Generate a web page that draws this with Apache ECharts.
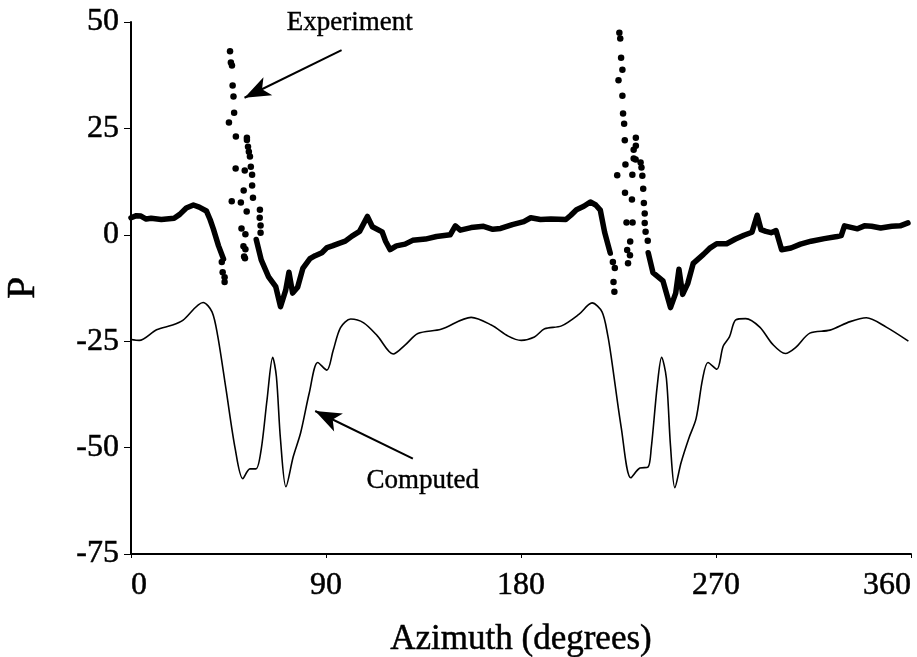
<!DOCTYPE html>
<html>
<head>
<meta charset="utf-8">
<script src="https://cdn.jsdelivr.net/npm/echarts@6/dist/echarts.min.js"></script>
<style>
  html, body { margin: 0; padding: 0; background: #fff; }
  #main { width: 917px; height: 657px; }
</style>
</head>
<body>
<div id="main"></div>
<script>
// x ticks / y ticks
const xTicks = [0, 90, 180, 270, 360];
const yTicks = [-75, -50, -25, 0, 25, 50];

// computed curve [azimuth, P]
const computed = [
  [0, -24.6], [3.8, -24.8], [11.8, -22.3], [19.2, -21.2], [23.9, -20.1], [33.3, -15.9],
  [37.4, -18.1], [40.0, -23.7], [43.8, -36.1], [48.1, -50.3], [51.6, -57.3], [54.9, -55.0],
  [57.7, -55.0], [60.1, -50.4], [62.8, -38.7], [65.4, -28.8], [67.1, -33.3], [69.0, -48.1],
  [71.5, -59.2], [74.9, -52.1], [78.3, -46.5], [82.3, -37.1], [86.2, -30.0], [90.4, -31.8],
  [93.3, -27.2], [96.7, -21.8], [101.4, -19.8], [107.4, -20.7], [113.8, -23.8], [121.0, -28.0],
  [126.7, -25.8], [132.4, -23.2], [143.1, -22.2], [157.0, -19.4], [166.3, -21.2], [174.1, -23.8],
  [180.1, -24.8], [186.2, -24.0], [190.9, -22.1], [198.7, -21.4], [206.7, -18.7], [212.8, -16.0],
  [217.4, -18.1], [220.0, -23.5], [221.7, -28.9], [226.3, -45.4], [230.7, -57.1], [234.9, -54.8],
  [238.6, -54.6], [240.1, -50.2], [242.9, -35.4], [244.9, -28.8], [247.1, -33.7], [249.0, -49.6],
  [251.0, -59.4], [253.9, -53.5], [257.4, -47.9], [260.8, -43.2], [263.8, -33.9], [266.3, -30.0],
  [270.4, -31.6], [273.3, -26.2], [276.2, -24.0], [279.1, -20.0], [283.7, -19.7], [290.2, -21.7],
  [296.1, -25.7], [302.0, -27.9], [306.7, -26.5], [313.3, -23.1], [322.6, -22.4], [331.9, -20.4],
  [339.4, -19.5], [348.6, -21.7], [358.8, -25.0]
];

// experiment, continuous (dense) parts
const expA = [
  [0, 4.0], [2.5, 4.5], [4.6, 4.4], [7.0, 3.7], [9.3, 3.9], [14.0, 3.6], [19.9, 3.9],
  [22.5, 4.8], [25.5, 6.3], [28.8, 7.0], [31.5, 6.5], [34.8, 5.6], [36.5, 3.6],
  [38.0, 1.4], [40.4, -2.6], [42.7, -5.7]
];
const expB = [
  [57.8, -1.1], [60.1, -5.9], [63.5, -9.9], [66.8, -12.2], [69.0, -16.9], [71.4, -13.0],
  [72.9, -8.8], [74.6, -13.7], [76.9, -12.3], [79.3, -7.9], [82.6, -5.6], [85.0, -4.9],
  [88.1, -4.2], [90.5, -3.0], [92.9, -2.6], [96.0, -2.0], [98.9, -1.5], [102.0, -0.3],
  [105.5, 0.8], [109.1, 4.3], [111.4, 1.9], [115.9, 0.7], [117.5, -1.5], [119.6, -3.5],
  [122.5, -2.6], [126.5, -2.2], [130.0, -1.3], [135.9, -1.0], [141.0, -0.4], [147.3, 0.0],
  [149.7, 2.1], [152.0, 1.1], [157.0, 1.7], [162.7, 2.0], [167.0, 1.3], [170.6, 1.5],
  [176.0, 2.4], [181.3, 3.1], [184.5, 4.0], [189.0, 3.6], [193.8, 3.7], [200.7, 3.6],
  [203.0, 4.6], [205.6, 5.9], [209.0, 6.7], [212.0, 7.7], [214.5, 7.0], [216.6, 5.8],
  [218.6, 0.6], [221.2, -4.3]
];
const expC = [
  [238.7, -4.2], [240.9, -8.9], [245.5, -10.8], [249.0, -17.1], [251.4, -13.7], [252.9, -8.1],
  [254.6, -14.0], [257.0, -11.4], [259.5, -6.7], [264.2, -4.6], [267.0, -3.2], [270.3, -2.1],
  [274.9, -2.1], [279.0, -1.0], [282.9, -0.1], [286.6, 0.6], [289.0, 4.6], [290.8, 1.2],
  [293.0, 0.8], [295.4, 0.5], [297.7, 1.0], [300.3, -3.5], [304.6, -3.1], [309.0, -2.2],
  [313.9, -1.5], [320.0, -0.9], [325.9, -0.4], [327.8, -0.2], [329.3, 2.1], [335.3, 1.4],
  [338.5, 2.1], [341.8, 2.0], [346.0, 1.6], [351.1, 2.0], [355.0, 2.1], [358.6, 2.8]
];

// experiment, sparse samples in the two spikes
const expDots = [
  [41.9, -6.4], [42.3, -8.8], [43.2, -10.0], [43.2, -11.1], [45.7, 43.1], [46.1, 40.5],
  [46.6, 39.8], [46.9, 35.1], [47.3, 32.5], [47.6, 28.7], [45.2, 26.4], [48.4, 23.1],
  [53.5, 22.8], [53.5, 22.3], [54.0, 20.7], [54.4, 19.5], [54.9, 18.4], [55.3, 16.0],
  [48.3, 15.6], [52.5, 15.1], [55.9, 14.1], [55.9, 11.6], [52.0, 10.4], [56.3, 8.7],
  [46.5, 7.9], [50.7, 7.6], [53.4, 5.5], [59.5, 5.9], [59.4, 4.0], [59.8, 2.2],
  [59.8, 0.5], [51.0, 1.5], [52.8, 0.1], [51.9, -2.7], [52.8, -3.4], [52.2, -5.1],
  [52.6, -5.5],
  [222.4, -6.4], [223.3, -7.8], [222.7, -11.1], [223.1, -13.4], [225.4, 47.5], [225.8, 46.1],
  [226.2, 41.6], [226.8, 38.8], [225.0, 36.3], [226.8, 32.7], [227.1, 28.5], [227.6, 26.1],
  [227.9, 22.2], [233.0, 22.8], [233.0, 20.9], [232.0, 20.0], [232.0, 17.9], [232.9, 17.7],
  [235.2, 17.0], [228.2, 16.5], [235.6, 15.8], [224.4, 14.0], [231.4, 14.1], [236.0, 13.9],
  [236.4, 10.8], [228.0, 9.9], [231.2, 8.3], [236.7, 7.5], [237.1, 5.0], [228.7, 2.9],
  [231.5, 2.9], [237.1, 2.8], [237.5, 0.7], [230.4, -1.6], [238.5, -1.4], [229.0, -3.6],
  [230.3, -4.8], [229.4, -6.7]
];

// annotations (data coords)
const expArrow = [[97.2, 43.4], [52.4, 32.2]];
const compArrow = [[130.1, -52.6], [85.0, -41.4]];
const expLabelAt = [101, 49.7];
const compLabelAt = [134.6, -57.8];

const FONT = "'Liberation Serif', 'DejaVu Serif', serif";
// scanned print looks a bit heavy, thicken glyphs slightly
const INK = { color: "#000", textBorderColor: "#000", textBorderWidth: 0.5 };

const chart = echarts.init(document.getElementById("main"));

function expLine(data) {
  return {
    type: "line",
    data: data,
    showSymbol: false,
    symbol: "none",
    smooth: false,
    lineStyle: { color: "#000", width: 5.5, cap: "round", join: "round" },
    z: 3,
  };
}

const arrowLine = (pts) => ({
  silent: true,
  symbol: ["none", "arrow"],
  symbolSize: [15, 26],
  label: { show: false },
  lineStyle: { color: "#000", width: 2, type: "solid" },
  data: [[{ coord: pts[0] }, { coord: pts[1] }]],
});

chart.setOption({
  animation: false,
  backgroundColor: "#fff",
  grid: { left: 131, right: 6, top: 22, bottom: 103, outerBoundsMode: "none" },
  xAxis: {
    type: "value",
    min: xTicks[0],
    max: xTicks[xTicks.length - 1],
    interval: 90,
    name: "Azimuth (degrees)",
    nameLocation: "middle",
    nameGap: 68,
    nameTextStyle: Object.assign({ fontFamily: FONT, fontSize: 35 }, INK),
    axisLine: { onZero: false, lineStyle: { color: "#000", width: 2 } },
    axisTick: { length: 4, lineStyle: { color: "#000", width: 1 } },
    axisLabel: Object.assign({
      fontFamily: FONT,
      fontSize: 32,
      margin: 16,
      alignMinLabel: "left",
      alignMaxLabel: "right",
    }, INK),
    splitLine: { show: false },
  },
  yAxis: {
    type: "value",
    min: yTicks[0],
    max: yTicks[yTicks.length - 1],
    interval: 25,
    name: "P",
    nameLocation: "middle",
    nameRotate: 90,
    nameGap: 88,
    nameTextStyle: Object.assign({ fontFamily: FONT, fontSize: 40 }, INK),
    axisLine: { show: true, onZero: false, lineStyle: { color: "#000", width: 2 } },
    axisTick: { show: true, length: 7, lineStyle: { color: "#000", width: 1 } },
    axisLabel: Object.assign({ fontFamily: FONT, fontSize: 32, margin: 12 }, INK),
    splitLine: { show: false },
  },
  series: [
    {
      type: "line",
      data: computed,
      showSymbol: false,
      symbol: "none",
      smooth: 0.3,
      lineStyle: { color: "#000", width: 1.6 },
      z: 2,
      markLine: arrowLine(compArrow),
    },
    Object.assign(expLine(expA), { markLine: arrowLine(expArrow) }),
    expLine(expB),
    expLine(expC),
    {
      type: "scatter",
      data: expDots,
      symbol: "circle",
      symbolSize: 6.5,
      itemStyle: { color: "#000", opacity: 1 },
      z: 4,
    },
  ],
});

// annotation texts placed at data positions
const p1 = chart.convertToPixel({ gridIndex: 0 }, expLabelAt);
const p2 = chart.convertToPixel({ gridIndex: 0 }, compLabelAt);
const noteStyle = (txt) => ({
  text: txt,
  font: "27px " + FONT,
  fill: "#000",
  stroke: "#000",
  lineWidth: 0.4,
  textAlign: "center",
  textVerticalAlign: "middle",
});
chart.setOption({
  graphic: [
    { type: "text", x: p1[0], y: p1[1], style: noteStyle("Experiment") },
    { type: "text", x: p2[0], y: p2[1], style: noteStyle("Computed") },
  ],
});
</script>
</body>
</html>
